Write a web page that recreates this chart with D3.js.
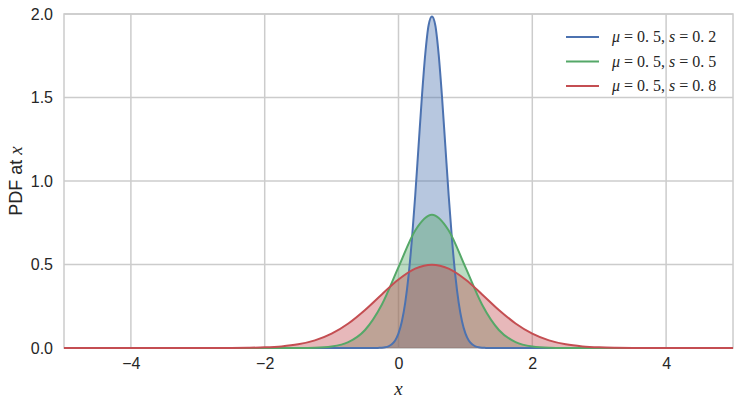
<!DOCTYPE html>
<html>
<head>
<meta charset="utf-8">
<script src="https://cdn.jsdelivr.net/npm/d3@7"></script>
<style>
  body { margin: 0; background: #fff; }
  text { font-family: "Liberation Sans", Arial, sans-serif; fill: #262626; }
  .math { font-family: "Liberation Serif", "DejaVu Serif", serif; }
</style>
</head>
<body>
<svg id="chart"></svg>
<script>
// values
var xWide = [-5, -4.75, -4.5, -4.25, -4, -3.75, -3.5, -3.25, -3, -2.75, -2.5, -2.25, -2, -1.75, -1.5, -1.25, -1, -0.75, -0.5, -0.25,
  0, 0.25, 0.5, 0.75, 1, 1.25, 1.5, 1.75, 2, 2.25, 2.5, 2.75, 3, 3.25, 3.5, 3.75, 4, 4.25, 4.5, 4.75, 5];
var redY = [0, 0, 0, 0, 0, 0, 0, 0, 0, 0.0001, 0.0004, 0.0014, 0.0038, 0.0096, 0.0219, 0.0456, 0.086, 0.147, 0.228, 0.321,
  0.410, 0.475, 0.499, 0.475, 0.410, 0.321, 0.228, 0.147, 0.086, 0.0456, 0.0219, 0.0096, 0.0038, 0.0014, 0.0004, 0.0001, 0, 0, 0, 0, 0];
var greenY = [0, 0, 0, 0, 0, 0, 0, 0, 0, 0, 0, 0, 0, 0, 0.0003, 0.0017, 0.0089, 0.035, 0.108, 0.259,
  0.484, 0.704, 0.798, 0.704, 0.484, 0.259, 0.108, 0.035, 0.0089, 0.0017, 0.0003, 0, 0, 0, 0, 0, 0, 0, 0, 0, 0];
var xNarrow = [-5, -0.5, -0.45, -0.4, -0.35, -0.3, -0.25, -0.2, -0.15, -0.1, -0.05, 0, 0.05, 0.1, 0.15, 0.2, 0.25, 0.3, 0.35, 0.4, 0.45,
  0.5, 0.55, 0.6, 0.65, 0.7, 0.75, 0.8, 0.85, 0.9, 0.95, 1, 1.05, 1.1, 1.15, 1.2, 1.25, 1.3, 1.35, 1.4, 1.45, 1.5, 5];
var blueY = [0, 0, 0, 0.0001, 0.0002, 0.0007, 0.0018, 0.0044, 0.0102, 0.0222, 0.0455, 0.0876, 0.159, 0.270, 0.432, 0.648, 0.913, 1.210, 1.506, 1.760, 1.933,
  1.985, 1.933, 1.760, 1.506, 1.210, 0.913, 0.648, 0.432, 0.270, 0.159, 0.0876, 0.0455, 0.0222, 0.0102, 0.0044, 0.0018, 0.0007, 0.0002, 0.0001, 0, 0, 0];
var seriesNames = ["0.2", "0.5", "0.8"];
var xTicks = [-4, -2, 0, 2, 4];
var yTicks = [0, 0.5, 1.0, 1.5, 2.0];

var width = 740, height = 405;
var margin = {top: 14, right: 7, bottom: 57, left: 64};
var w = width - margin.left - margin.right,
    h = height - margin.top - margin.bottom;

var svg = d3.select("#chart").attr("width", width).attr("height", height);
var g = svg.append("g").attr("transform", "translate(" + margin.left + "," + margin.top + ")");

var x = d3.scaleLinear().domain([-5, 5]).range([0, w]);
var y = d3.scaleLinear().domain([0, 2]).range([h, 0]);

// grid
g.selectAll(".gx").data(xTicks).enter().append("line")
  .attr("x1", d => x(d)).attr("x2", d => x(d)).attr("y1", 0).attr("y2", h)
  .attr("stroke", "#cccccc").attr("stroke-width", 1.5);
g.selectAll(".gy").data(yTicks).enter().append("line")
  .attr("x1", 0).attr("x2", w).attr("y1", d => y(d)).attr("y2", d => y(d))
  .attr("stroke", "#cccccc").attr("stroke-width", 1.5);
g.append("rect").attr("width", w).attr("height", h)
  .attr("fill", "none").attr("stroke", "#cccccc").attr("stroke-width", 1.5);

var series = [
  {xs: xNarrow, ys: blueY, color: "#4C72B0", s: seriesNames[0]},
  {xs: xWide, ys: greenY, color: "#55A868", s: seriesNames[1]},
  {xs: xWide, ys: redY, color: "#C44E52", s: seriesNames[2]}
];

var area = d3.area().curve(d3.curveMonotoneX)
  .x(d => x(d[0])).y0(y(0)).y1(d => y(d[1]));
var line = d3.line().curve(d3.curveMonotoneX)
  .x(d => x(d[0])).y(d => y(d[1]));

series.forEach(function(s) {
  var pts = s.xs.map((v, i) => [v, s.ys[i]]);
  g.append("path").datum(pts).attr("d", area)
    .attr("fill", s.color).attr("fill-opacity", 0.4);
});
series.forEach(function(s) {
  var pts = s.xs.map((v, i) => [v, s.ys[i]]);
  g.append("path").datum(pts).attr("d", line)
    .attr("fill", "none").attr("stroke", s.color).attr("stroke-width", 2);
});

// axes
var xAxis = g.append("g").attr("transform", "translate(0," + h + ")")
  .call(d3.axisBottom(x).tickValues(xTicks).tickSize(0).tickPadding(10));
var yAxis = g.append("g")
  .call(d3.axisLeft(y).tickValues(yTicks).tickSize(0).tickPadding(11).tickFormat(d3.format(".1f")));
[xAxis, yAxis].forEach(function(a) {
  a.select(".domain").remove();
  a.selectAll("text").style("font-size", "16px").attr("fill", "#262626")
    .style("font-family", "'Liberation Sans', Arial, sans-serif");
});

// axis labels
svg.append("text").attr("class", "math")
  .attr("x", margin.left + w / 2).attr("y", 395).attr("text-anchor", "middle")
  .style("font-size", "19px").style("font-style", "italic").text("x");
var yl = svg.append("text")
  .attr("transform", "translate(22," + (margin.top + h / 2) + ") rotate(-90)")
  .attr("text-anchor", "middle").style("font-size", "18px");
yl.append("tspan").text("PDF at ");
yl.append("tspan").attr("class", "math").style("font-style", "italic").style("font-size", "19px").text("x");

// legend
var leg = svg.append("g").attr("transform", "translate(566,37)");
series.forEach(function(s, i) {
  var row = leg.append("g").attr("transform", "translate(0," + i * 24.5 + ")");
  row.append("line").attr("x1", 0).attr("x2", 33).attr("stroke", s.color).attr("stroke-width", 2);
  var t = row.append("text").attr("class", "math").attr("x", 46).attr("y", 5).style("font-size", "16px");
  t.append("tspan").style("font-style", "italic").text("μ");
  t.append("tspan").text(" = 0. 5, ");
  t.append("tspan").style("font-style", "italic").text("s");
  t.append("tspan").text(" = 0. " + s.s.slice(2));
});
</script>
</body>
</html>
